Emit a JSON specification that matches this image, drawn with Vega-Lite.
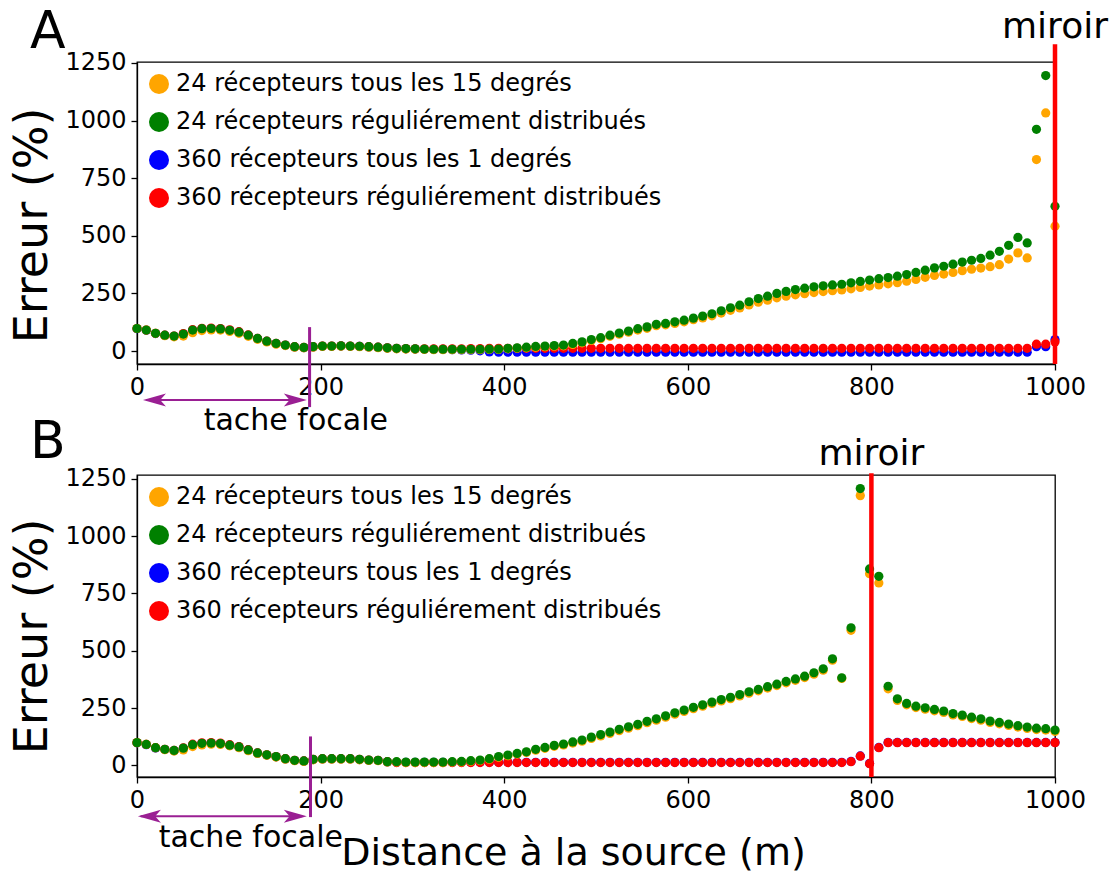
{
"$schema": "https://vega.github.io/schema/vega-lite/v6.json",
"background": "white",
"padding": {"left": 9, "top": 5, "right": 0, "bottom": 0},
"spacing": 111,
"bounds": "flush",
"config": {
  "font": "DejaVu Sans",
  "view": {"stroke": "#000", "strokeWidth": 1.3},
  "axis": {"grid": false, "domainColor": "#000", "domainWidth": 1.3, "tickColor": "#000", "tickWidth": 1.3, "tickSize": 6, "labelColor": "#000", "titleColor": "#000", "labelFont": "DejaVu Sans", "titleFont": "DejaVu Sans", "labelFontSize": 24, "titleFontSize": 46, "titleFontWeight": "normal", "labelFlush": false, "labelOverlap": false, "labelPadding": 5, "format": "d"},
  "legend": {"orient": "none", "legendX": 10, "legendY": 10, "padding": 0, "labelFont": "DejaVu Sans", "labelFontSize": 24, "labelColor": "#000", "symbolType": "circle", "symbolSize": 400, "symbolStrokeWidth": 0, "symbolOpacity": 1, "labelLimit": 0, "rowPadding": 14, "labelOffset": 5},
  "text": {"font": "DejaVu Sans"}
},
"resolve": {"scale": {"color": "independent", "x": "independent", "y": "independent"}, "legend": {"color": "independent"}},
"datasets": {
"A": [
{"s":"b","x":0,"y":97},{"s":"b","x":10.1,"y":90},{"s":"b","x":20.2,"y":76},{"s":"b","x":30.3,"y":68},{"s":"b","x":40.4,"y":64},{"s":"b","x":50.5,"y":73},{"s":"b","x":60.6,"y":90},{"s":"b","x":70.7,"y":96},{"s":"b","x":80.8,"y":97},{"s":"b","x":90.9,"y":95},
{"s":"b","x":101,"y":89},{"s":"b","x":111.1,"y":81},{"s":"b","x":121.2,"y":68},{"s":"b","x":131.3,"y":54},{"s":"b","x":141.4,"y":42},{"s":"b","x":151.5,"y":32},{"s":"b","x":161.6,"y":25},{"s":"b","x":171.7,"y":18},{"s":"b","x":181.8,"y":15},{"s":"b","x":191.9,"y":18},
{"s":"b","x":202,"y":21},{"s":"b","x":212.1,"y":21},{"s":"b","x":222.2,"y":22},{"s":"b","x":232.3,"y":21},{"s":"b","x":242.4,"y":20},{"s":"b","x":252.5,"y":18},{"s":"b","x":262.6,"y":16},{"s":"b","x":272.7,"y":13},{"s":"b","x":282.8,"y":11},{"s":"b","x":292.9,"y":10},
{"s":"b","x":303,"y":9},{"s":"b","x":313.1,"y":8},{"s":"b","x":323.2,"y":7},{"s":"b","x":333.3,"y":7},{"s":"b","x":343.4,"y":6},{"s":"b","x":353.5,"y":5},{"s":"b","x":363.6,"y":4},{"s":"b","x":373.7,"y":1},{"s":"b","x":383.8,"y":-4},{"s":"b","x":393.9,"y":-5},
{"s":"b","x":404,"y":-5},{"s":"b","x":414.1,"y":-5},{"s":"b","x":424.2,"y":-5},{"s":"b","x":434.3,"y":-5},{"s":"b","x":444.4,"y":-5},{"s":"b","x":454.5,"y":-5},{"s":"b","x":464.6,"y":-5},{"s":"b","x":474.7,"y":-5},{"s":"b","x":484.8,"y":-5},{"s":"b","x":494.9,"y":-5},
{"s":"b","x":505.1,"y":-5},{"s":"b","x":515.2,"y":-5},{"s":"b","x":525.3,"y":-5},{"s":"b","x":535.4,"y":-5},{"s":"b","x":545.5,"y":-5},{"s":"b","x":555.6,"y":-5},{"s":"b","x":565.7,"y":-5},{"s":"b","x":575.8,"y":-5},{"s":"b","x":585.9,"y":-5},{"s":"b","x":596,"y":-5},
{"s":"b","x":606.1,"y":-5},{"s":"b","x":616.2,"y":-5},{"s":"b","x":626.3,"y":-5},{"s":"b","x":636.4,"y":-5},{"s":"b","x":646.5,"y":-5},{"s":"b","x":656.6,"y":-5},{"s":"b","x":666.7,"y":-5},{"s":"b","x":676.8,"y":-5},{"s":"b","x":686.9,"y":-5},{"s":"b","x":697,"y":-5},
{"s":"b","x":707.1,"y":-5},{"s":"b","x":717.2,"y":-5},{"s":"b","x":727.3,"y":-5},{"s":"b","x":737.4,"y":-5},{"s":"b","x":747.5,"y":-5},{"s":"b","x":757.6,"y":-5},{"s":"b","x":767.7,"y":-5},{"s":"b","x":777.8,"y":-5},{"s":"b","x":787.9,"y":-5},{"s":"b","x":798,"y":-5},
{"s":"b","x":808.1,"y":-5},{"s":"b","x":818.2,"y":-5},{"s":"b","x":828.3,"y":-5},{"s":"b","x":838.4,"y":-5},{"s":"b","x":848.5,"y":-5},{"s":"b","x":858.6,"y":-5},{"s":"b","x":868.7,"y":-5},{"s":"b","x":878.8,"y":-5},{"s":"b","x":888.9,"y":-5},{"s":"b","x":899,"y":-5},
{"s":"b","x":909.1,"y":-5},{"s":"b","x":919.2,"y":-5},{"s":"b","x":929.3,"y":-5},{"s":"b","x":939.4,"y":-5},{"s":"b","x":949.5,"y":-5},{"s":"b","x":959.6,"y":-5},{"s":"b","x":969.7,"y":-5},{"s":"b","x":979.8,"y":19},{"s":"b","x":989.9,"y":19},{"s":"b","x":1000,"y":50},
{"s":"r","x":0,"y":98},{"s":"r","x":10.1,"y":91},{"s":"r","x":20.2,"y":77},{"s":"r","x":30.3,"y":69},{"s":"r","x":40.4,"y":65},{"s":"r","x":50.5,"y":76},{"s":"r","x":60.6,"y":93},{"s":"r","x":70.7,"y":99},{"s":"r","x":80.8,"y":100},{"s":"r","x":90.9,"y":98},
{"s":"r","x":101,"y":92},{"s":"r","x":111.1,"y":84},{"s":"r","x":121.2,"y":70},{"s":"r","x":131.3,"y":55},{"s":"r","x":141.4,"y":43},{"s":"r","x":151.5,"y":33},{"s":"r","x":161.6,"y":26},{"s":"r","x":171.7,"y":19},{"s":"r","x":181.8,"y":16},{"s":"r","x":191.9,"y":19},
{"s":"r","x":202,"y":22},{"s":"r","x":212.1,"y":22},{"s":"r","x":222.2,"y":23},{"s":"r","x":232.3,"y":22},{"s":"r","x":242.4,"y":21},{"s":"r","x":252.5,"y":19},{"s":"r","x":262.6,"y":17},{"s":"r","x":272.7,"y":14},{"s":"r","x":282.8,"y":12},{"s":"r","x":292.9,"y":11},
{"s":"r","x":303,"y":10},{"s":"r","x":313.1,"y":10},{"s":"r","x":323.2,"y":10},{"s":"r","x":333.3,"y":10},{"s":"r","x":343.4,"y":10},{"s":"r","x":353.5,"y":10},{"s":"r","x":363.6,"y":11},{"s":"r","x":373.7,"y":11},{"s":"r","x":383.8,"y":12},{"s":"r","x":393.9,"y":12},
{"s":"r","x":404,"y":12},{"s":"r","x":414.1,"y":12},{"s":"r","x":424.2,"y":12},{"s":"r","x":434.3,"y":12},{"s":"r","x":444.4,"y":12},{"s":"r","x":454.5,"y":12},{"s":"r","x":464.6,"y":12},{"s":"r","x":474.7,"y":12},{"s":"r","x":484.8,"y":12},{"s":"r","x":494.9,"y":12},
{"s":"r","x":505.1,"y":12},{"s":"r","x":515.2,"y":12},{"s":"r","x":525.3,"y":12},{"s":"r","x":535.4,"y":12},{"s":"r","x":545.5,"y":12},{"s":"r","x":555.6,"y":12},{"s":"r","x":565.7,"y":12},{"s":"r","x":575.8,"y":12},{"s":"r","x":585.9,"y":12},{"s":"r","x":596,"y":12},
{"s":"r","x":606.1,"y":12},{"s":"r","x":616.2,"y":12},{"s":"r","x":626.3,"y":12},{"s":"r","x":636.4,"y":12},{"s":"r","x":646.5,"y":12},{"s":"r","x":656.6,"y":12},{"s":"r","x":666.7,"y":12},{"s":"r","x":676.8,"y":12},{"s":"r","x":686.9,"y":12},{"s":"r","x":697,"y":12},
{"s":"r","x":707.1,"y":12},{"s":"r","x":717.2,"y":12},{"s":"r","x":727.3,"y":12},{"s":"r","x":737.4,"y":12},{"s":"r","x":747.5,"y":12},{"s":"r","x":757.6,"y":12},{"s":"r","x":767.7,"y":12},{"s":"r","x":777.8,"y":12},{"s":"r","x":787.9,"y":12},{"s":"r","x":798,"y":12},
{"s":"r","x":808.1,"y":12},{"s":"r","x":818.2,"y":12},{"s":"r","x":828.3,"y":12},{"s":"r","x":838.4,"y":12},{"s":"r","x":848.5,"y":12},{"s":"r","x":858.6,"y":12},{"s":"r","x":868.7,"y":12},{"s":"r","x":878.8,"y":12},{"s":"r","x":888.9,"y":12},{"s":"r","x":899,"y":12},
{"s":"r","x":909.1,"y":12},{"s":"r","x":919.2,"y":12},{"s":"r","x":929.3,"y":12},{"s":"r","x":939.4,"y":12},{"s":"r","x":949.5,"y":12},{"s":"r","x":959.6,"y":12},{"s":"r","x":969.7,"y":12},{"s":"r","x":979.8,"y":30},{"s":"r","x":989.9,"y":30},{"s":"r","x":1000,"y":40},
{"s":"o","x":0,"y":98},{"s":"o","x":10.1,"y":91},{"s":"o","x":20.2,"y":77},{"s":"o","x":30.3,"y":67},{"s":"o","x":40.4,"y":62},{"s":"o","x":50.5,"y":65},{"s":"o","x":60.6,"y":80},{"s":"o","x":70.7,"y":89},{"s":"o","x":80.8,"y":92},{"s":"o","x":90.9,"y":91},
{"s":"o","x":101,"y":85},{"s":"o","x":111.1,"y":77},{"s":"o","x":121.2,"y":64},{"s":"o","x":131.3,"y":51},{"s":"o","x":141.4,"y":40},{"s":"o","x":151.5,"y":30},{"s":"o","x":161.6,"y":24},{"s":"o","x":171.7,"y":17},{"s":"o","x":181.8,"y":14},{"s":"o","x":191.9,"y":17},
{"s":"o","x":202,"y":20},{"s":"o","x":212.1,"y":20},{"s":"o","x":222.2,"y":21},{"s":"o","x":232.3,"y":20},{"s":"o","x":242.4,"y":19},{"s":"o","x":252.5,"y":17},{"s":"o","x":262.6,"y":15},{"s":"o","x":272.7,"y":12},{"s":"o","x":282.8,"y":10},{"s":"o","x":292.9,"y":9},
{"s":"o","x":303,"y":8},{"s":"o","x":313.1,"y":7},{"s":"o","x":323.2,"y":6},{"s":"o","x":333.3,"y":6},{"s":"o","x":343.4,"y":6},{"s":"o","x":353.5,"y":6},{"s":"o","x":363.6,"y":6},{"s":"o","x":373.7,"y":6},{"s":"o","x":383.8,"y":7},{"s":"o","x":393.9,"y":7},
{"s":"o","x":404,"y":10},{"s":"o","x":414.1,"y":12},{"s":"o","x":424.2,"y":14},{"s":"o","x":434.3,"y":17},{"s":"o","x":444.4,"y":19},{"s":"o","x":454.5,"y":21},{"s":"o","x":464.6,"y":23},{"s":"o","x":474.7,"y":29},{"s":"o","x":484.8,"y":36},{"s":"o","x":494.9,"y":46},
{"s":"o","x":505.1,"y":54},{"s":"o","x":515.2,"y":64},{"s":"o","x":525.3,"y":73},{"s":"o","x":535.4,"y":82},{"s":"o","x":545.5,"y":91},{"s":"o","x":555.6,"y":99},{"s":"o","x":565.7,"y":110},{"s":"o","x":575.8,"y":114},{"s":"o","x":585.9,"y":120},{"s":"o","x":596,"y":127},
{"s":"o","x":606.1,"y":136},{"s":"o","x":616.2,"y":144},{"s":"o","x":626.3,"y":153},{"s":"o","x":636.4,"y":165},{"s":"o","x":646.5,"y":177},{"s":"o","x":656.6,"y":187},{"s":"o","x":666.7,"y":200},{"s":"o","x":676.8,"y":212},{"s":"o","x":686.9,"y":221},{"s":"o","x":697,"y":231},
{"s":"o","x":707.1,"y":238},{"s":"o","x":717.2,"y":244},{"s":"o","x":727.3,"y":249},{"s":"o","x":737.4,"y":254},{"s":"o","x":747.5,"y":258},{"s":"o","x":757.6,"y":262},{"s":"o","x":767.7,"y":265},{"s":"o","x":777.8,"y":270},{"s":"o","x":787.9,"y":276},{"s":"o","x":798,"y":282},
{"s":"o","x":808.1,"y":287},{"s":"o","x":818.2,"y":292},{"s":"o","x":828.3,"y":297},{"s":"o","x":838.4,"y":303},{"s":"o","x":848.5,"y":311},{"s":"o","x":858.6,"y":320},{"s":"o","x":868.7,"y":328},{"s":"o","x":878.8,"y":334},{"s":"o","x":888.9,"y":341},{"s":"o","x":899,"y":349},
{"s":"o","x":909.1,"y":355},{"s":"o","x":919.2,"y":360},{"s":"o","x":929.3,"y":366},{"s":"o","x":939.4,"y":375},{"s":"o","x":949.5,"y":399},{"s":"o","x":959.6,"y":426},{"s":"o","x":969.7,"y":404},{"s":"o","x":979.8,"y":831},{"s":"o","x":989.9,"y":1033},{"s":"o","x":1000,"y":542},
{"s":"g","x":0,"y":98},{"s":"g","x":10.1,"y":91},{"s":"g","x":20.2,"y":77},{"s":"g","x":30.3,"y":69},{"s":"g","x":40.4,"y":65},{"s":"g","x":50.5,"y":74},{"s":"g","x":60.6,"y":91},{"s":"g","x":70.7,"y":97},{"s":"g","x":80.8,"y":98},{"s":"g","x":90.9,"y":96},
{"s":"g","x":101,"y":90},{"s":"g","x":111.1,"y":82},{"s":"g","x":121.2,"y":69},{"s":"g","x":131.3,"y":55},{"s":"g","x":141.4,"y":43},{"s":"g","x":151.5,"y":33},{"s":"g","x":161.6,"y":26},{"s":"g","x":171.7,"y":19},{"s":"g","x":181.8,"y":16},{"s":"g","x":191.9,"y":19},
{"s":"g","x":202,"y":22},{"s":"g","x":212.1,"y":22},{"s":"g","x":222.2,"y":23},{"s":"g","x":232.3,"y":22},{"s":"g","x":242.4,"y":21},{"s":"g","x":252.5,"y":19},{"s":"g","x":262.6,"y":17},{"s":"g","x":272.7,"y":14},{"s":"g","x":282.8,"y":12},{"s":"g","x":292.9,"y":11},
{"s":"g","x":303,"y":10},{"s":"g","x":313.1,"y":9},{"s":"g","x":323.2,"y":8},{"s":"g","x":333.3,"y":8},{"s":"g","x":343.4,"y":8},{"s":"g","x":353.5,"y":8},{"s":"g","x":363.6,"y":8},{"s":"g","x":373.7,"y":8},{"s":"g","x":383.8,"y":9},{"s":"g","x":393.9,"y":9},
{"s":"g","x":404,"y":12},{"s":"g","x":414.1,"y":14},{"s":"g","x":424.2,"y":17},{"s":"g","x":434.3,"y":20},{"s":"g","x":444.4,"y":22},{"s":"g","x":454.5,"y":24},{"s":"g","x":464.6,"y":26},{"s":"g","x":474.7,"y":33},{"s":"g","x":484.8,"y":40},{"s":"g","x":494.9,"y":50},
{"s":"g","x":505.1,"y":58},{"s":"g","x":515.2,"y":69},{"s":"g","x":525.3,"y":78},{"s":"g","x":535.4,"y":87},{"s":"g","x":545.5,"y":97},{"s":"g","x":555.6,"y":105},{"s":"g","x":565.7,"y":116},{"s":"g","x":575.8,"y":120},{"s":"g","x":585.9,"y":127},{"s":"g","x":596,"y":134},
{"s":"g","x":606.1,"y":143},{"s":"g","x":616.2,"y":152},{"s":"g","x":626.3,"y":162},{"s":"g","x":636.4,"y":175},{"s":"g","x":646.5,"y":188},{"s":"g","x":656.6,"y":199},{"s":"g","x":666.7,"y":214},{"s":"g","x":676.8,"y":228},{"s":"g","x":686.9,"y":238},{"s":"g","x":697,"y":250},
{"s":"g","x":707.1,"y":259},{"s":"g","x":717.2,"y":267},{"s":"g","x":727.3,"y":273},{"s":"g","x":737.4,"y":279},{"s":"g","x":747.5,"y":283},{"s":"g","x":757.6,"y":287},{"s":"g","x":767.7,"y":290},{"s":"g","x":777.8,"y":296},{"s":"g","x":787.9,"y":302},{"s":"g","x":798,"y":308},
{"s":"g","x":808.1,"y":314},{"s":"g","x":818.2,"y":319},{"s":"g","x":828.3,"y":325},{"s":"g","x":838.4,"y":332},{"s":"g","x":848.5,"y":341},{"s":"g","x":858.6,"y":351},{"s":"g","x":868.7,"y":361},{"s":"g","x":878.8,"y":368},{"s":"g","x":888.9,"y":377},{"s":"g","x":899,"y":386},
{"s":"g","x":909.1,"y":394},{"s":"g","x":919.2,"y":402},{"s":"g","x":929.3,"y":416},{"s":"g","x":939.4,"y":433},{"s":"g","x":949.5,"y":459},{"s":"g","x":959.6,"y":493},{"s":"g","x":969.7,"y":469},{"s":"g","x":979.8,"y":962},{"s":"g","x":989.9,"y":1195},{"s":"g","x":1000,"y":628}
],
"B": [
{"s":"b","x":0,"y":98},{"s":"b","x":10.1,"y":90},{"s":"b","x":20.2,"y":76},{"s":"b","x":30.3,"y":69},{"s":"b","x":40.4,"y":64},{"s":"b","x":50.5,"y":74},{"s":"b","x":60.6,"y":89},{"s":"b","x":70.7,"y":95},{"s":"b","x":80.8,"y":96},{"s":"b","x":90.9,"y":94},
{"s":"b","x":101,"y":87},{"s":"b","x":111.1,"y":79},{"s":"b","x":121.2,"y":66},{"s":"b","x":131.3,"y":53},{"s":"b","x":141.4,"y":45},{"s":"b","x":151.5,"y":37},{"s":"b","x":161.6,"y":28},{"s":"b","x":171.7,"y":21},{"s":"b","x":181.8,"y":18},{"s":"b","x":191.9,"y":25},
{"s":"b","x":202,"y":28},{"s":"b","x":212.1,"y":28},{"s":"b","x":222.2,"y":28},{"s":"b","x":232.3,"y":28},{"s":"b","x":242.4,"y":25},{"s":"b","x":252.5,"y":22},{"s":"b","x":262.6,"y":21},{"s":"b","x":272.7,"y":15},{"s":"b","x":282.8,"y":13},{"s":"b","x":292.9,"y":13},
{"s":"b","x":303,"y":13},{"s":"b","x":313.1,"y":13},{"s":"b","x":323.2,"y":13},{"s":"b","x":333.3,"y":13},{"s":"b","x":343.4,"y":13},{"s":"b","x":353.5,"y":13},{"s":"b","x":363.6,"y":13},{"s":"b","x":373.7,"y":13},{"s":"b","x":383.8,"y":13},{"s":"b","x":393.9,"y":13},
{"s":"b","x":404,"y":13},{"s":"b","x":414.1,"y":13},{"s":"b","x":424.2,"y":13},{"s":"b","x":434.3,"y":13},{"s":"b","x":444.4,"y":13},{"s":"b","x":454.5,"y":13},{"s":"b","x":464.6,"y":13},{"s":"b","x":474.7,"y":13},{"s":"b","x":484.8,"y":13},{"s":"b","x":494.9,"y":13},
{"s":"b","x":505.1,"y":13},{"s":"b","x":515.2,"y":13},{"s":"b","x":525.3,"y":13},{"s":"b","x":535.4,"y":13},{"s":"b","x":545.5,"y":13},{"s":"b","x":555.6,"y":13},{"s":"b","x":565.7,"y":13},{"s":"b","x":575.8,"y":13},{"s":"b","x":585.9,"y":13},{"s":"b","x":596,"y":13},
{"s":"b","x":606.1,"y":13},{"s":"b","x":616.2,"y":13},{"s":"b","x":626.3,"y":13},{"s":"b","x":636.4,"y":13},{"s":"b","x":646.5,"y":13},{"s":"b","x":656.6,"y":13},{"s":"b","x":666.7,"y":13},{"s":"b","x":676.8,"y":13},{"s":"b","x":686.9,"y":13},{"s":"b","x":697,"y":13},
{"s":"b","x":707.1,"y":13},{"s":"b","x":717.2,"y":13},{"s":"b","x":727.3,"y":13},{"s":"b","x":737.4,"y":13},{"s":"b","x":747.5,"y":13},{"s":"b","x":757.6,"y":13},{"s":"b","x":767.7,"y":13},{"s":"b","x":777.8,"y":17},{"s":"b","x":787.9,"y":41},{"s":"b","x":798,"y":8},
{"s":"b","x":808.1,"y":78},{"s":"b","x":818.2,"y":100},{"s":"b","x":828.3,"y":100},{"s":"b","x":838.4,"y":100},{"s":"b","x":848.5,"y":100},{"s":"b","x":858.6,"y":100},{"s":"b","x":868.7,"y":100},{"s":"b","x":878.8,"y":100},{"s":"b","x":888.9,"y":100},{"s":"b","x":899,"y":100},
{"s":"b","x":909.1,"y":100},{"s":"b","x":919.2,"y":100},{"s":"b","x":929.3,"y":100},{"s":"b","x":939.4,"y":100},{"s":"b","x":949.5,"y":100},{"s":"b","x":959.6,"y":100},{"s":"b","x":969.7,"y":100},{"s":"b","x":979.8,"y":100},{"s":"b","x":989.9,"y":100},{"s":"b","x":1000,"y":100},
{"s":"r","x":0,"y":99},{"s":"r","x":10.1,"y":91},{"s":"r","x":20.2,"y":77},{"s":"r","x":30.3,"y":70},{"s":"r","x":40.4,"y":65},{"s":"r","x":50.5,"y":76},{"s":"r","x":60.6,"y":92},{"s":"r","x":70.7,"y":98},{"s":"r","x":80.8,"y":99},{"s":"r","x":90.9,"y":97},
{"s":"r","x":101,"y":90},{"s":"r","x":111.1,"y":82},{"s":"r","x":121.2,"y":68},{"s":"r","x":131.3,"y":54},{"s":"r","x":141.4,"y":46},{"s":"r","x":151.5,"y":38},{"s":"r","x":161.6,"y":29},{"s":"r","x":171.7,"y":22},{"s":"r","x":181.8,"y":19},{"s":"r","x":191.9,"y":26},
{"s":"r","x":202,"y":29},{"s":"r","x":212.1,"y":29},{"s":"r","x":222.2,"y":29},{"s":"r","x":232.3,"y":29},{"s":"r","x":242.4,"y":26},{"s":"r","x":252.5,"y":23},{"s":"r","x":262.6,"y":22},{"s":"r","x":272.7,"y":16},{"s":"r","x":282.8,"y":12},{"s":"r","x":292.9,"y":12},
{"s":"r","x":303,"y":12},{"s":"r","x":313.1,"y":12},{"s":"r","x":323.2,"y":12},{"s":"r","x":333.3,"y":12},{"s":"r","x":343.4,"y":12},{"s":"r","x":353.5,"y":12},{"s":"r","x":363.6,"y":12},{"s":"r","x":373.7,"y":12},{"s":"r","x":383.8,"y":12},{"s":"r","x":393.9,"y":12},
{"s":"r","x":404,"y":12},{"s":"r","x":414.1,"y":12},{"s":"r","x":424.2,"y":12},{"s":"r","x":434.3,"y":12},{"s":"r","x":444.4,"y":12},{"s":"r","x":454.5,"y":12},{"s":"r","x":464.6,"y":12},{"s":"r","x":474.7,"y":12},{"s":"r","x":484.8,"y":12},{"s":"r","x":494.9,"y":12},
{"s":"r","x":505.1,"y":12},{"s":"r","x":515.2,"y":12},{"s":"r","x":525.3,"y":12},{"s":"r","x":535.4,"y":12},{"s":"r","x":545.5,"y":12},{"s":"r","x":555.6,"y":12},{"s":"r","x":565.7,"y":12},{"s":"r","x":575.8,"y":12},{"s":"r","x":585.9,"y":12},{"s":"r","x":596,"y":12},
{"s":"r","x":606.1,"y":12},{"s":"r","x":616.2,"y":12},{"s":"r","x":626.3,"y":12},{"s":"r","x":636.4,"y":12},{"s":"r","x":646.5,"y":12},{"s":"r","x":656.6,"y":12},{"s":"r","x":666.7,"y":12},{"s":"r","x":676.8,"y":12},{"s":"r","x":686.9,"y":12},{"s":"r","x":697,"y":12},
{"s":"r","x":707.1,"y":12},{"s":"r","x":717.2,"y":12},{"s":"r","x":727.3,"y":12},{"s":"r","x":737.4,"y":12},{"s":"r","x":747.5,"y":12},{"s":"r","x":757.6,"y":12},{"s":"r","x":767.7,"y":12},{"s":"r","x":777.8,"y":16},{"s":"r","x":787.9,"y":40},{"s":"r","x":798,"y":7},
{"s":"r","x":808.1,"y":77},{"s":"r","x":818.2,"y":99},{"s":"r","x":828.3,"y":99},{"s":"r","x":838.4,"y":99},{"s":"r","x":848.5,"y":99},{"s":"r","x":858.6,"y":99},{"s":"r","x":868.7,"y":99},{"s":"r","x":878.8,"y":99},{"s":"r","x":888.9,"y":99},{"s":"r","x":899,"y":99},
{"s":"r","x":909.1,"y":99},{"s":"r","x":919.2,"y":99},{"s":"r","x":929.3,"y":99},{"s":"r","x":939.4,"y":99},{"s":"r","x":949.5,"y":99},{"s":"r","x":959.6,"y":99},{"s":"r","x":969.7,"y":99},{"s":"r","x":979.8,"y":99},{"s":"r","x":989.9,"y":99},{"s":"r","x":1000,"y":99},
{"s":"o","x":0,"y":99},{"s":"o","x":10.1,"y":91},{"s":"o","x":20.2,"y":77},{"s":"o","x":30.3,"y":68},{"s":"o","x":40.4,"y":62},{"s":"o","x":50.5,"y":67},{"s":"o","x":60.6,"y":82},{"s":"o","x":70.7,"y":89},{"s":"o","x":80.8,"y":92},{"s":"o","x":90.9,"y":91},
{"s":"o","x":101,"y":85},{"s":"o","x":111.1,"y":77},{"s":"o","x":121.2,"y":64},{"s":"o","x":131.3,"y":52},{"s":"o","x":141.4,"y":44},{"s":"o","x":151.5,"y":36},{"s":"o","x":161.6,"y":27},{"s":"o","x":171.7,"y":20},{"s":"o","x":181.8,"y":17},{"s":"o","x":191.9,"y":24},
{"s":"o","x":202,"y":27},{"s":"o","x":212.1,"y":27},{"s":"o","x":222.2,"y":27},{"s":"o","x":232.3,"y":27},{"s":"o","x":242.4,"y":24},{"s":"o","x":252.5,"y":21},{"s":"o","x":262.6,"y":20},{"s":"o","x":272.7,"y":14},{"s":"o","x":282.8,"y":14},{"s":"o","x":292.9,"y":12},
{"s":"o","x":303,"y":12},{"s":"o","x":313.1,"y":12},{"s":"o","x":323.2,"y":12},{"s":"o","x":333.3,"y":12},{"s":"o","x":343.4,"y":14},{"s":"o","x":353.5,"y":15},{"s":"o","x":363.6,"y":18},{"s":"o","x":373.7,"y":21},{"s":"o","x":383.8,"y":27},{"s":"o","x":393.9,"y":35},
{"s":"o","x":404,"y":42},{"s":"o","x":414.1,"y":49},{"s":"o","x":424.2,"y":56},{"s":"o","x":434.3,"y":66},{"s":"o","x":444.4,"y":74},{"s":"o","x":454.5,"y":83},{"s":"o","x":464.6,"y":89},{"s":"o","x":474.7,"y":97},{"s":"o","x":484.8,"y":105},{"s":"o","x":494.9,"y":117},
{"s":"o","x":505.1,"y":128},{"s":"o","x":515.2,"y":139},{"s":"o","x":525.3,"y":151},{"s":"o","x":535.4,"y":162},{"s":"o","x":545.5,"y":173},{"s":"o","x":555.6,"y":186},{"s":"o","x":565.7,"y":197},{"s":"o","x":575.8,"y":210},{"s":"o","x":585.9,"y":223},{"s":"o","x":596,"y":235},
{"s":"o","x":606.1,"y":247},{"s":"o","x":616.2,"y":258},{"s":"o","x":626.3,"y":270},{"s":"o","x":636.4,"y":281},{"s":"o","x":646.5,"y":291},{"s":"o","x":656.6,"y":303},{"s":"o","x":666.7,"y":315},{"s":"o","x":676.8,"y":325},{"s":"o","x":686.9,"y":337},{"s":"o","x":697,"y":348},
{"s":"o","x":707.1,"y":360},{"s":"o","x":717.2,"y":371},{"s":"o","x":727.3,"y":383},{"s":"o","x":737.4,"y":398},{"s":"o","x":747.5,"y":415},{"s":"o","x":757.6,"y":459},{"s":"o","x":767.7,"y":379},{"s":"o","x":777.8,"y":589},{"s":"o","x":787.9,"y":1177},{"s":"o","x":798,"y":836},
{"s":"o","x":808.1,"y":796},{"s":"o","x":818.2,"y":334},{"s":"o","x":828.3,"y":283},{"s":"o","x":838.4,"y":264},{"s":"o","x":848.5,"y":252},{"s":"o","x":858.6,"y":245},{"s":"o","x":868.7,"y":238},{"s":"o","x":878.8,"y":231},{"s":"o","x":888.9,"y":220},{"s":"o","x":899,"y":213},
{"s":"o","x":909.1,"y":204},{"s":"o","x":919.2,"y":197},{"s":"o","x":929.3,"y":187},{"s":"o","x":939.4,"y":181},{"s":"o","x":949.5,"y":174},{"s":"o","x":959.6,"y":167},{"s":"o","x":969.7,"y":161},{"s":"o","x":979.8,"y":156},{"s":"o","x":989.9,"y":154},{"s":"o","x":1000,"y":148},
{"s":"g","x":0,"y":99},{"s":"g","x":10.1,"y":91},{"s":"g","x":20.2,"y":77},{"s":"g","x":30.3,"y":70},{"s":"g","x":40.4,"y":65},{"s":"g","x":50.5,"y":75},{"s":"g","x":60.6,"y":90},{"s":"g","x":70.7,"y":96},{"s":"g","x":80.8,"y":97},{"s":"g","x":90.9,"y":95},
{"s":"g","x":101,"y":88},{"s":"g","x":111.1,"y":80},{"s":"g","x":121.2,"y":67},{"s":"g","x":131.3,"y":54},{"s":"g","x":141.4,"y":46},{"s":"g","x":151.5,"y":38},{"s":"g","x":161.6,"y":29},{"s":"g","x":171.7,"y":22},{"s":"g","x":181.8,"y":19},{"s":"g","x":191.9,"y":26},
{"s":"g","x":202,"y":29},{"s":"g","x":212.1,"y":29},{"s":"g","x":222.2,"y":29},{"s":"g","x":232.3,"y":29},{"s":"g","x":242.4,"y":26},{"s":"g","x":252.5,"y":23},{"s":"g","x":262.6,"y":22},{"s":"g","x":272.7,"y":16},{"s":"g","x":282.8,"y":16},{"s":"g","x":292.9,"y":14},
{"s":"g","x":303,"y":14},{"s":"g","x":313.1,"y":14},{"s":"g","x":323.2,"y":14},{"s":"g","x":333.3,"y":14},{"s":"g","x":343.4,"y":16},{"s":"g","x":353.5,"y":17},{"s":"g","x":363.6,"y":20},{"s":"g","x":373.7,"y":23},{"s":"g","x":383.8,"y":29},{"s":"g","x":393.9,"y":38},
{"s":"g","x":404,"y":45},{"s":"g","x":414.1,"y":52},{"s":"g","x":424.2,"y":59},{"s":"g","x":434.3,"y":70},{"s":"g","x":444.4,"y":78},{"s":"g","x":454.5,"y":87},{"s":"g","x":464.6,"y":93},{"s":"g","x":474.7,"y":102},{"s":"g","x":484.8,"y":110},{"s":"g","x":494.9,"y":123},
{"s":"g","x":505.1,"y":134},{"s":"g","x":515.2,"y":145},{"s":"g","x":525.3,"y":157},{"s":"g","x":535.4,"y":168},{"s":"g","x":545.5,"y":179},{"s":"g","x":555.6,"y":192},{"s":"g","x":565.7,"y":203},{"s":"g","x":575.8,"y":216},{"s":"g","x":585.9,"y":229},{"s":"g","x":596,"y":241},
{"s":"g","x":606.1,"y":253},{"s":"g","x":616.2,"y":264},{"s":"g","x":626.3,"y":276},{"s":"g","x":636.4,"y":287},{"s":"g","x":646.5,"y":297},{"s":"g","x":656.6,"y":309},{"s":"g","x":666.7,"y":321},{"s":"g","x":676.8,"y":331},{"s":"g","x":686.9,"y":343},{"s":"g","x":697,"y":354},
{"s":"g","x":707.1,"y":366},{"s":"g","x":717.2,"y":377},{"s":"g","x":727.3,"y":389},{"s":"g","x":737.4,"y":404},{"s":"g","x":747.5,"y":421},{"s":"g","x":757.6,"y":465},{"s":"g","x":767.7,"y":382},{"s":"g","x":777.8,"y":600},{"s":"g","x":787.9,"y":1208},{"s":"g","x":798,"y":857},
{"s":"g","x":808.1,"y":825},{"s":"g","x":818.2,"y":345},{"s":"g","x":828.3,"y":290},{"s":"g","x":838.4,"y":270},{"s":"g","x":848.5,"y":258},{"s":"g","x":858.6,"y":251},{"s":"g","x":868.7,"y":244},{"s":"g","x":878.8,"y":237},{"s":"g","x":888.9,"y":226},{"s":"g","x":899,"y":219},
{"s":"g","x":909.1,"y":210},{"s":"g","x":919.2,"y":203},{"s":"g","x":929.3,"y":193},{"s":"g","x":939.4,"y":187},{"s":"g","x":949.5,"y":180},{"s":"g","x":959.6,"y":173},{"s":"g","x":969.7,"y":167},{"s":"g","x":979.8,"y":162},{"s":"g","x":989.9,"y":160},{"s":"g","x":1000,"y":154}
]
},
"vconcat": [
{
 "width": 918, "height": 302,
 "layer": [
  {"data": {"name": "A"},
   "mark": {"type": "point", "filled": true, "size": 85, "opacity": 1, "strokeWidth": 0},
   "encoding": {
    "x": {"field": "x", "type": "quantitative", "scale": {"domain": [0, 1000], "nice": false, "zero": false}, "axis": {"values": [0, 200, 400, 600, 800, 1000], "title": null}},
    "y": {"field": "y", "type": "quantitative", "scale": {"domain": [-56, 1254], "nice": false, "zero": false}, "axis": {"values": [0, 250, 500, 750, 1000, 1250], "title": "Erreur (%)", "titlePadding": 8, "titleY": 163}},
    "color": {"field": "s", "type": "nominal", "scale": {"domain": ["o", "g", "b", "r"], "range": ["#FFA500", "#008000", "#0000FF", "#FF0000"]}, "legend": {"title": null, "labelExpr": "datum.value == 'o' ? '24 récepteurs tous les 15 degrés' : datum.value == 'g' ? '24 récepteurs réguliérement distribués' : datum.value == 'b' ? '360 récepteurs tous les 1 degrés' : '360 récepteurs réguliérement distribués'"}}
   }},
  {"data": {"values": [{"x": 1000, "y": -56, "y2": 1331}]},
   "mark": {"type": "rule", "color": "#FF0000", "strokeWidth": 4.5},
   "encoding": {"x": {"field": "x", "type": "quantitative", "scale": {"domain": [0, 1000], "nice": false, "zero": false}}, "y": {"field": "y", "type": "quantitative", "scale": {"domain": [-56, 1254], "nice": false, "zero": false}}, "y2": {"field": "y2"}}},
  {"data": {"values": [{"x": 188, "y": 104, "y2": -243}]},
   "mark": {"type": "rule", "color": "#9a1f93", "strokeWidth": 3},
   "encoding": {"x": {"field": "x", "type": "quantitative", "scale": {"domain": [0, 1000], "nice": false, "zero": false}}, "y": {"field": "y", "type": "quantitative", "scale": {"domain": [-56, 1254], "nice": false, "zero": false}}, "y2": {"field": "y2"}}},
  {"data": {"values": [{"x": 10, "x2": 180, "y": -212}]},
   "mark": {"type": "rule", "color": "#9a1f93", "strokeWidth": 2},
   "encoding": {"x": {"field": "x", "type": "quantitative", "scale": {"domain": [0, 1000], "nice": false, "zero": false}}, "x2": {"field": "x2"}, "y": {"field": "y", "type": "quantitative", "scale": {"domain": [-56, 1254], "nice": false, "zero": false}}}},
  {"data": {"values": [{"x": 6.5, "y": -212}]},
   "mark": {"type": "point", "shape": "M0,0L2,-0.57L1.5,0L2,0.57Z", "size": 529, "filled": true, "opacity": 1, "color": "#9a1f93", "strokeWidth": 0},
   "encoding": {"x": {"field": "x", "type": "quantitative", "scale": {"domain": [0, 1000], "nice": false, "zero": false}}, "y": {"field": "y", "type": "quantitative", "scale": {"domain": [-56, 1254], "nice": false, "zero": false}}}},
  {"data": {"values": [{"x": 185, "y": -212}]},
   "mark": {"type": "point", "shape": "M0,0L-2,-0.57L-1.5,0L-2,0.57Z", "size": 529, "filled": true, "opacity": 1, "color": "#9a1f93", "strokeWidth": 0},
   "encoding": {"x": {"field": "x", "type": "quantitative", "scale": {"domain": [0, 1000], "nice": false, "zero": false}}, "y": {"field": "y", "type": "quantitative", "scale": {"domain": [-56, 1254], "nice": false, "zero": false}}}},
  {"data": {"values": [{"x": 173, "y": -342, "t": "tache focale"}]},
   "mark": {"type": "text", "fontSize": 30, "align": "center", "baseline": "alphabetic", "color": "#000"},
   "encoding": {"x": {"field": "x", "type": "quantitative", "scale": {"domain": [0, 1000], "nice": false, "zero": false}}, "y": {"field": "y", "type": "quantitative", "scale": {"domain": [-56, 1254], "nice": false, "zero": false}}, "text": {"field": "t", "type": "nominal"}}},
  {"data": {"values": [{"x": 1000, "y": 1357, "t": "miroir"}]},
   "mark": {"type": "text", "fontSize": 36, "align": "center", "baseline": "alphabetic", "color": "#000"},
   "encoding": {"x": {"field": "x", "type": "quantitative", "scale": {"domain": [0, 1000], "nice": false, "zero": false}}, "y": {"field": "y", "type": "quantitative", "scale": {"domain": [-56, 1254], "nice": false, "zero": false}}, "text": {"field": "t", "type": "nominal"}}},
  {"data": {"values": [{"x": -116.6, "y": 1313, "t": "A"}]},
   "mark": {"type": "text", "fontSize": 52, "align": "left", "baseline": "alphabetic", "color": "#000"},
   "encoding": {"x": {"field": "x", "type": "quantitative", "scale": {"domain": [0, 1000], "nice": false, "zero": false}}, "y": {"field": "y", "type": "quantitative", "scale": {"domain": [-56, 1254], "nice": false, "zero": false}}, "text": {"field": "t", "type": "nominal"}}}
 ]
},
{
 "width": 918, "height": 302,
 "layer": [
  {"data": {"name": "B"},
   "mark": {"type": "point", "filled": true, "size": 85, "opacity": 1, "strokeWidth": 0},
   "encoding": {
    "x": {"field": "x", "type": "quantitative", "scale": {"domain": [0, 1000], "nice": false, "zero": false}, "axis": {"values": [0, 200, 400, 600, 800, 1000], "title": "Distance à la source (m)", "titleFontSize": 38, "titleX": 436, "titlePadding": 22}},
    "y": {"field": "y", "type": "quantitative", "scale": {"domain": [-51, 1267], "nice": false, "zero": false}, "axis": {"values": [0, 250, 500, 750, 1000, 1250], "title": "Erreur (%)", "titlePadding": 8, "titleY": 161}},
    "color": {"field": "s", "type": "nominal", "scale": {"domain": ["o", "g", "b", "r"], "range": ["#FFA500", "#008000", "#0000FF", "#FF0000"]}, "legend": {"title": null, "labelExpr": "datum.value == 'o' ? '24 récepteurs tous les 15 degrés' : datum.value == 'g' ? '24 récepteurs réguliérement distribués' : datum.value == 'b' ? '360 récepteurs tous les 1 degrés' : '360 récepteurs réguliérement distribués'"}}
   }},
  {"data": {"values": [{"x": 800, "y": -51, "y2": 1275}]},
   "mark": {"type": "rule", "color": "#FF0000", "strokeWidth": 4.5},
   "encoding": {"x": {"field": "x", "type": "quantitative", "scale": {"domain": [0, 1000], "nice": false, "zero": false}}, "y": {"field": "y", "type": "quantitative", "scale": {"domain": [-51, 1267], "nice": false, "zero": false}}, "y2": {"field": "y2"}}},
  {"data": {"values": [{"x": 189, "y": 126, "y2": -226}]},
   "mark": {"type": "rule", "color": "#9a1f93", "strokeWidth": 3},
   "encoding": {"x": {"field": "x", "type": "quantitative", "scale": {"domain": [0, 1000], "nice": false, "zero": false}}, "y": {"field": "y", "type": "quantitative", "scale": {"domain": [-51, 1267], "nice": false, "zero": false}}, "y2": {"field": "y2"}}},
  {"data": {"values": [{"x": 4, "x2": 180, "y": -222}]},
   "mark": {"type": "rule", "color": "#9a1f93", "strokeWidth": 2},
   "encoding": {"x": {"field": "x", "type": "quantitative", "scale": {"domain": [0, 1000], "nice": false, "zero": false}}, "x2": {"field": "x2"}, "y": {"field": "y", "type": "quantitative", "scale": {"domain": [-51, 1267], "nice": false, "zero": false}}}},
  {"data": {"values": [{"x": 1, "y": -222}]},
   "mark": {"type": "point", "shape": "M0,0L2,-0.57L1.5,0L2,0.57Z", "size": 529, "filled": true, "opacity": 1, "color": "#9a1f93", "strokeWidth": 0},
   "encoding": {"x": {"field": "x", "type": "quantitative", "scale": {"domain": [0, 1000], "nice": false, "zero": false}}, "y": {"field": "y", "type": "quantitative", "scale": {"domain": [-51, 1267], "nice": false, "zero": false}}}},
  {"data": {"values": [{"x": 185, "y": -222}]},
   "mark": {"type": "point", "shape": "M0,0L-2,-0.57L-1.5,0L-2,0.57Z", "size": 529, "filled": true, "opacity": 1, "color": "#9a1f93", "strokeWidth": 0},
   "encoding": {"x": {"field": "x", "type": "quantitative", "scale": {"domain": [0, 1000], "nice": false, "zero": false}}, "y": {"field": "y", "type": "quantitative", "scale": {"domain": [-51, 1267], "nice": false, "zero": false}}}},
  {"data": {"values": [{"x": 124, "y": -357, "t": "tache focale"}]},
   "mark": {"type": "text", "fontSize": 30, "align": "center", "baseline": "alphabetic", "color": "#000"},
   "encoding": {"x": {"field": "x", "type": "quantitative", "scale": {"domain": [0, 1000], "nice": false, "zero": false}}, "y": {"field": "y", "type": "quantitative", "scale": {"domain": [-51, 1267], "nice": false, "zero": false}}, "text": {"field": "t", "type": "nominal"}}},
  {"data": {"values": [{"x": 800, "y": 1311, "t": "miroir"}]},
   "mark": {"type": "text", "fontSize": 36, "align": "center", "baseline": "alphabetic", "color": "#000"},
   "encoding": {"x": {"field": "x", "type": "quantitative", "scale": {"domain": [0, 1000], "nice": false, "zero": false}}, "y": {"field": "y", "type": "quantitative", "scale": {"domain": [-51, 1267], "nice": false, "zero": false}}, "text": {"field": "t", "type": "nominal"}}},
  {"data": {"values": [{"x": -116.6, "y": 1341, "t": "B"}]},
   "mark": {"type": "text", "fontSize": 52, "align": "left", "baseline": "alphabetic", "color": "#000"},
   "encoding": {"x": {"field": "x", "type": "quantitative", "scale": {"domain": [0, 1000], "nice": false, "zero": false}}, "y": {"field": "y", "type": "quantitative", "scale": {"domain": [-51, 1267], "nice": false, "zero": false}}, "text": {"field": "t", "type": "nominal"}}}
 ]
}
]
}
